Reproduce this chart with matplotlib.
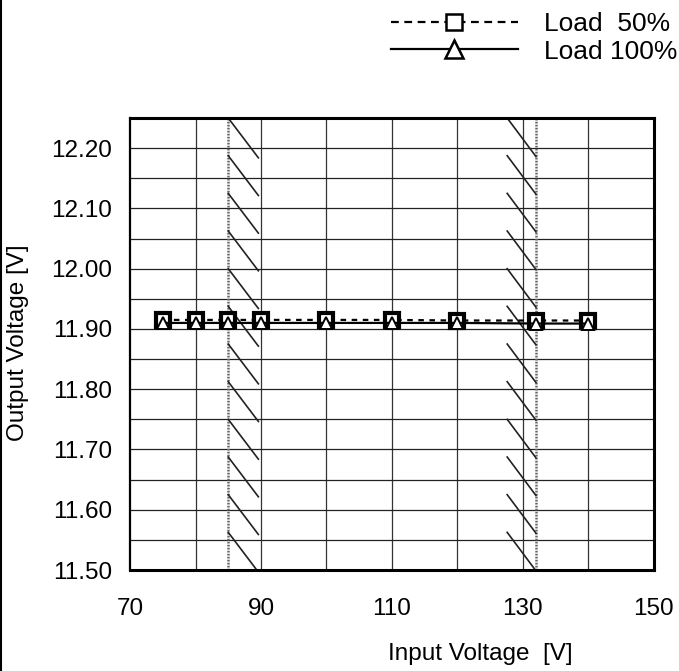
import matplotlib
matplotlib.use('Agg')
import matplotlib.pyplot as plt
from matplotlib.lines import Line2D
import numpy as np

plt.rcParams['font.family'] = ['Liberation Sans', 'DejaVu Sans']

# %% data
input_v = [75, 80, 85, 90, 100, 110, 120, 132, 140]
load_50 = [11.915, 11.915, 11.915, 11.915, 11.915, 11.915, 11.914, 11.914, 11.914]
load_100 = [11.910, 11.910, 11.910, 11.910, 11.910, 11.910, 11.910, 11.909, 11.909]
labels = ['Load  50%', 'Load 100%']

x_ticks = [70, 90, 110, 130, 150]
y_ticks = [11.50, 11.60, 11.70, 11.80, 11.90, 12.00, 12.10, 12.20]
band_edges = [85, 132]  # rated input range limits (dotted)

# %% figure
fig = plt.figure(figsize=(6.79, 6.71), dpi=100)
ax = fig.add_axes([0.1915, 0.1505, 0.7715, 0.6736])

ax.set_xlim(70, 150)
ax.set_ylim(11.50, 12.25)

# grid
for xv in np.arange(80, 150, 10):
    ax.axvline(xv, color='#333333', lw=0.9, zorder=1)
for yv in np.arange(11.55, 12.25, 0.05):
    ax.axhline(yv, color='#222222', lw=0.9, zorder=1)
for xv in band_edges:
    ax.axvline(xv, color='#666666', lw=1.8, ls=(0, (0.7, 0.5)), zorder=1)

# hatch marks at the limits
period = 0.0625
tops = 12.25 - period * np.arange(12)
for t in tops:
    ax.plot([85, 89.6], [t, t - 0.066], color='#222222', lw=1.2, zorder=2)
    ax.plot([127.6, 132], [t, t - 0.064], color='#222222', lw=1.2, zorder=2)

# series
ax.plot(input_v, load_50, color='black', ls=(0, (2.5, 2.5)), lw=1.6,
        marker='s', ms=10, mfc='white', mec='black', mew=3, label=labels[0], zorder=4)
ax.plot(input_v, load_100, color='black', ls='-', lw=1.6,
        marker='^', ms=8, mfc='white', mec='black', mew=1.4, label=labels[1], zorder=5)

ax.set_xticks(x_ticks)
ax.set_yticks(y_ticks)
ax.set_yticklabels(['%.2f' % v for v in y_ticks])
ax.tick_params(length=0, labelsize=17.5)
ax.tick_params(axis='x', pad=20)
ax.tick_params(axis='y', pad=13)

for s in ax.spines.values():
    s.set_linewidth(2.2)
ax.spines['left'].set_linewidth(1.6)

fig.text(0.026, 0.49, 'Output Voltage [V]', rotation=90, ha='center', va='center', fontsize=17.5)
fig.text(0.707, 0.025, 'Input Voltage  [V]', ha='center', va='center', fontsize=17.5)

leg = ax.legend(loc='upper right', bbox_to_anchor=(1.025, 1.009), bbox_transform=fig.transFigure,
                frameon=False, fontsize=19, handlelength=4.8, handletextpad=1.0,
                labelspacing=0.12, numpoints=1, borderpad=0.2)
h50, h100 = leg.legend_handles
h50.set_linestyle((0, (3.5, 2.5)))
h50.set_markeredgewidth(1.8)
h50.set_markersize(11)
h100.set_markersize(13)
h100.set_markeredgewidth(1.8)

# scanned page border on the left
fig.add_artist(Line2D([0.002, 0.002], [0, 1], color='black', lw=1.5))

fig.savefig('out.png', dpi=100)
